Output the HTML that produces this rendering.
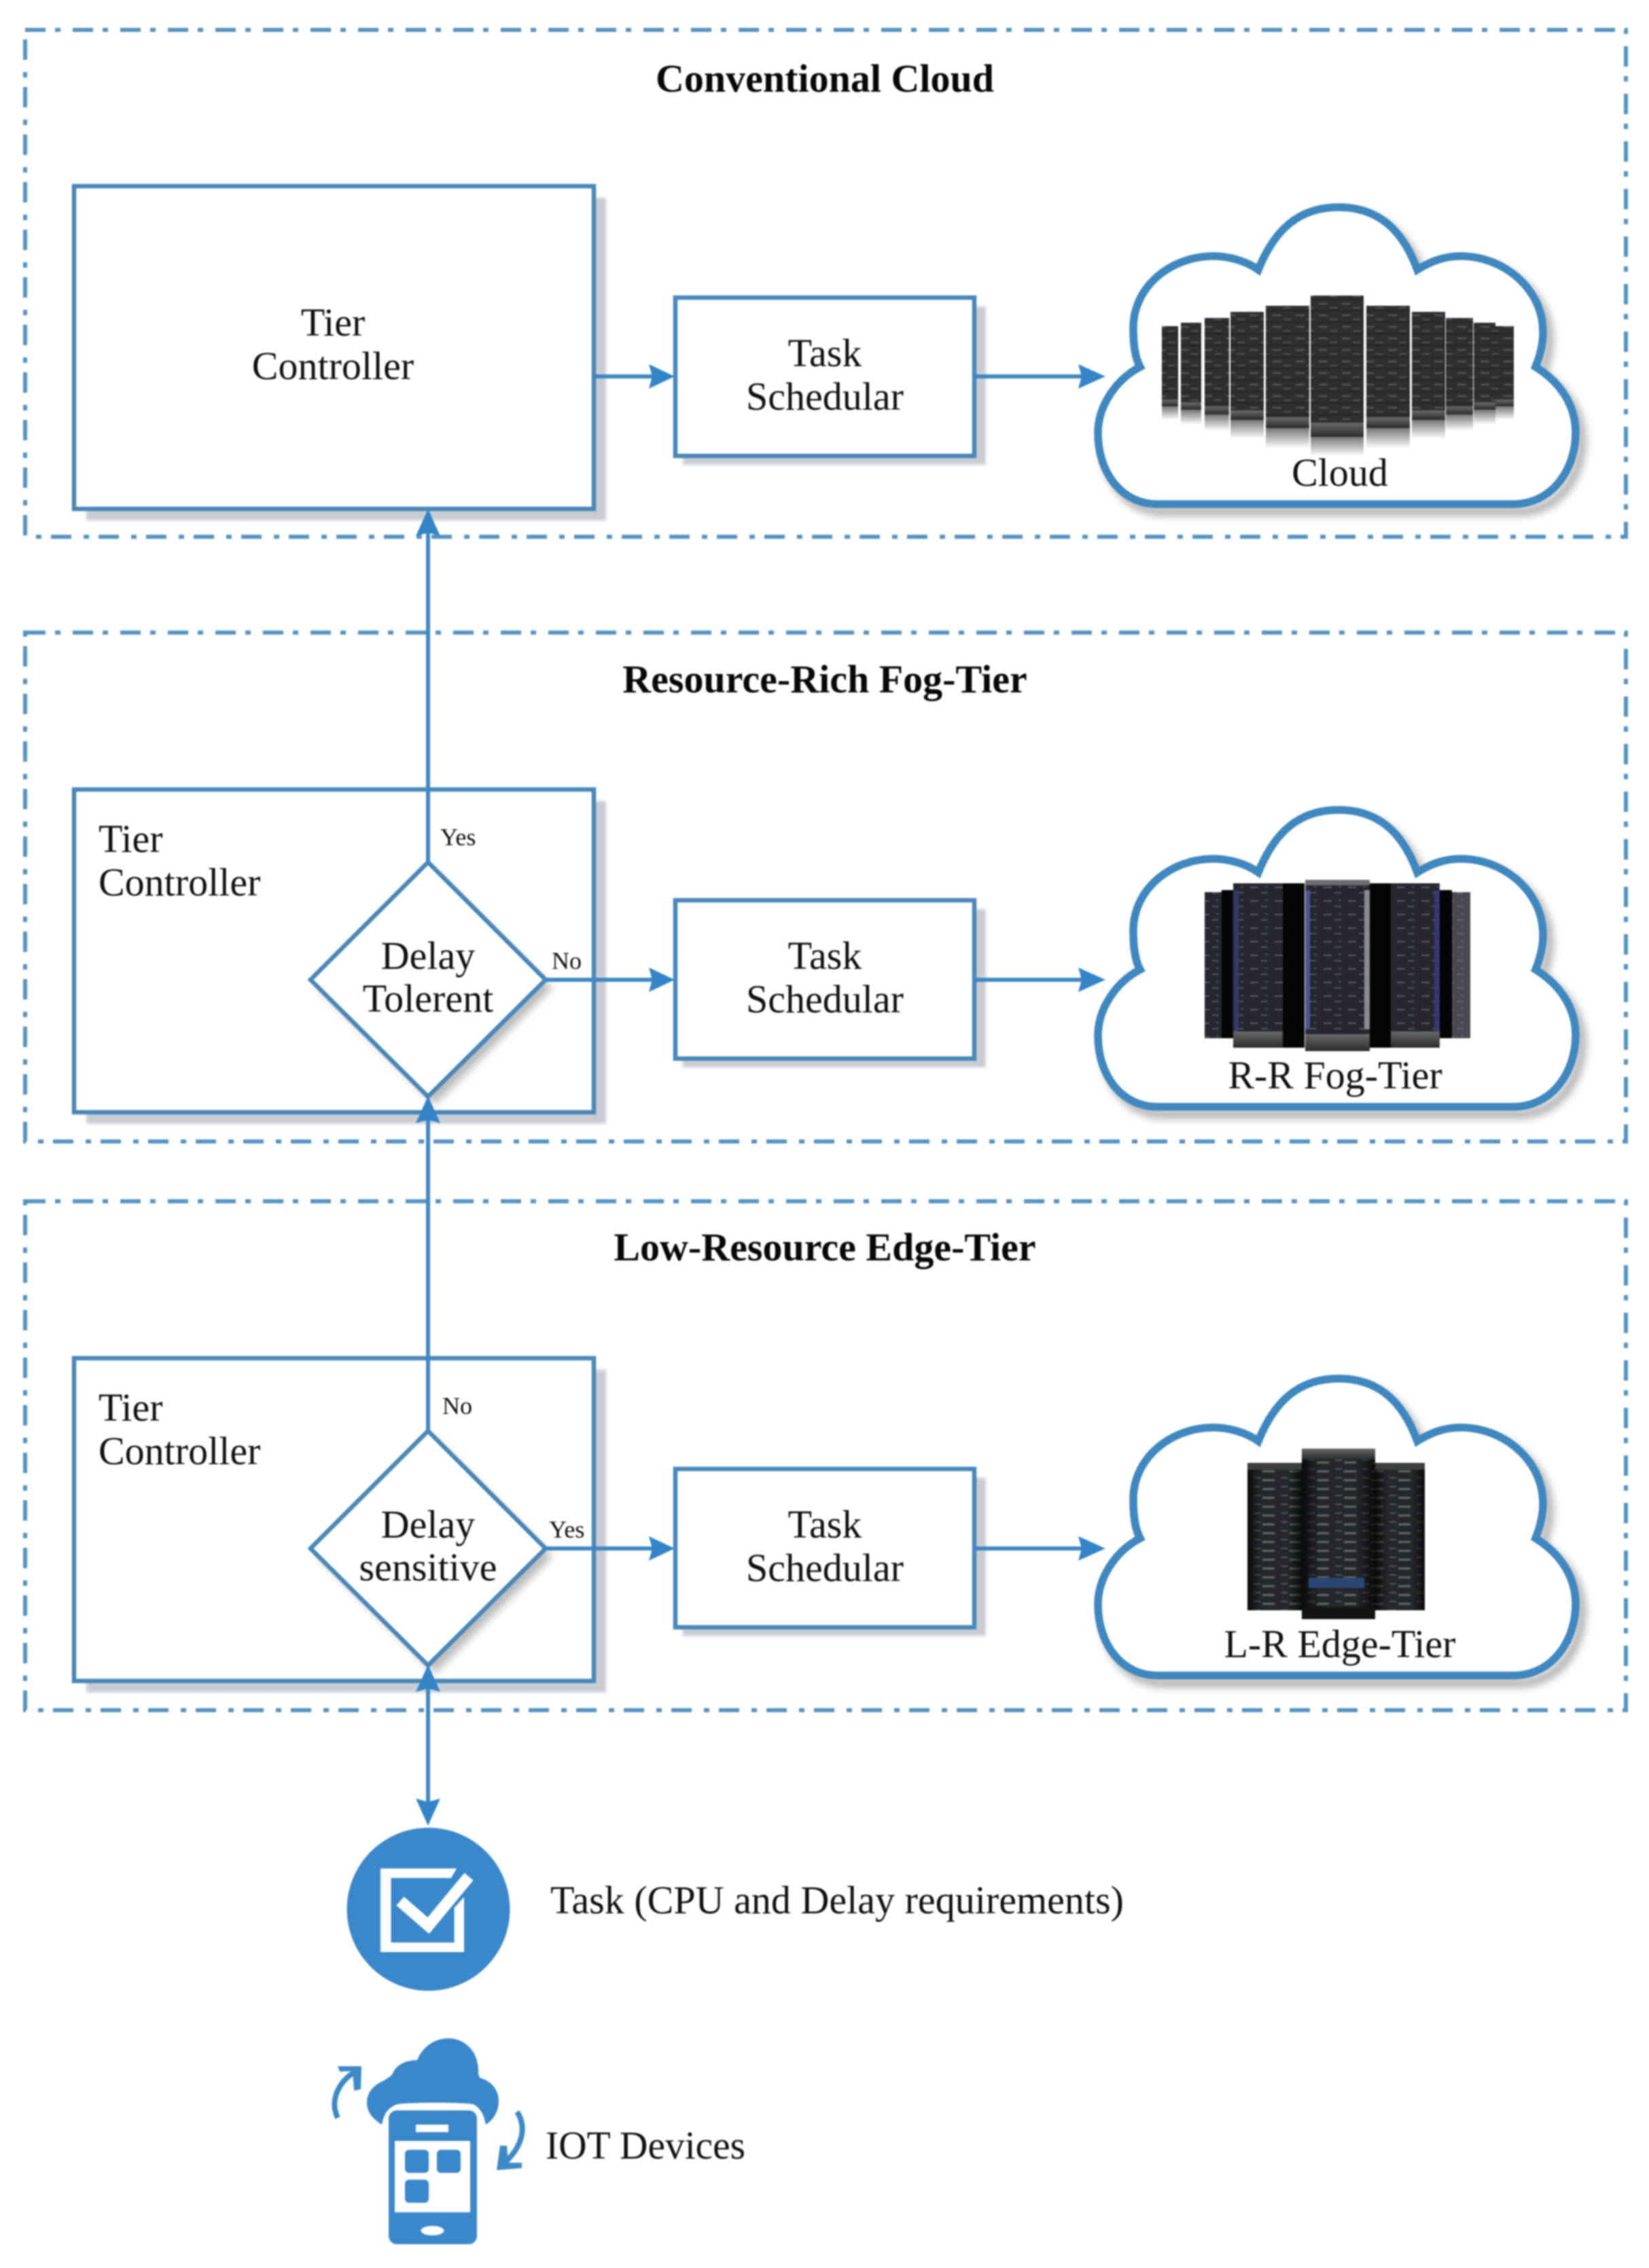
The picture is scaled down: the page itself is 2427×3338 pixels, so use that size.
<!DOCTYPE html>
<html><head><meta charset="utf-8"><style>
html,body{margin:0;padding:0;background:#fff;width:2427px;height:3338px;overflow:hidden}
svg{display:block;filter:blur(1px)}
text{font-family:"Liberation Serif",serif;font-size:58px;fill:#111}
.b{font-weight:bold;text-anchor:middle;fill:#080808}
.m{text-anchor:middle}
.s{font-size:36px}
.o{fill:none;stroke:#5593c3;stroke-width:6;stroke-dasharray:30 14 8 18}
.bx{fill:#fff;stroke:#4a88b9;stroke-width:6.5}
.sh{fill:#c9cdd3}
.ln{stroke:#3f88c4;stroke-width:6;fill:none}
.ah{fill:#3484c8}
.ic{fill:#3a88cb}
</style></head><body>
<svg width="2427" height="3338" viewBox="0 0 2427 3338" xmlns="http://www.w3.org/2000/svg">
<defs>
<filter id="bl" x="-10%" y="-10%" width="120%" height="120%"><feGaussianBlur stdDeviation="6"/></filter>
<filter id="bl2" x="-10%" y="-10%" width="120%" height="120%"><feGaussianBlur stdDeviation="2"/></filter>
<path id="cl" d="M1704 742 L2227 742 C2285 742 2319 690 2319 637 C2319 600 2300 565 2260 540 C2272 510 2272 490 2270 475 C2263 420 2210 377 2150 377 C2125 377 2105 385 2086 397 C2065 340 2030 305 1970 305 C1910 305 1875 340 1852 397 C1835 385 1810 377 1786 377 C1725 377 1668 420 1668 483 C1668 505 1670 525 1678 540 C1640 560 1616 600 1616 637 C1616 695 1650 742 1704 742Z"/>
<pattern id="rk" width="34" height="17" patternUnits="userSpaceOnUse"><rect width="34" height="17" fill="#2f2f32"/><rect x="3" y="4" width="13" height="2" fill="#5c5c60"/><rect x="19" y="10" width="11" height="2" fill="#50525a"/><rect x="0" y="15" width="34" height="1" fill="#1c1c1e"/></pattern>
<pattern id="fg" width="36" height="20" patternUnits="userSpaceOnUse"><rect width="36" height="20" fill="#26272e"/><rect x="4" y="5" width="12" height="2" fill="#5c6068"/><rect x="20" y="13" width="10" height="2" fill="#4d5a66"/><rect x="26" y="4" width="4" height="2" fill="#46586a"/></pattern>
<pattern id="ed" width="40" height="13" patternUnits="userSpaceOnUse"><rect width="40" height="13" fill="#25272a"/><rect x="5" y="3" width="10" height="2" fill="#4f5d6e"/><rect x="18" y="6" width="18" height="3" fill="#5e6b6c"/></pattern>
<linearGradient id="rf" x1="0" y1="0" x2="0" y2="1"><stop offset="0" stop-color="#777"/><stop offset="1" stop-color="#fff"/></linearGradient>
<linearGradient id="ft" x1="0" y1="0" x2="0" y2="1"><stop offset="0" stop-color="#6a6a6c"/><stop offset="1" stop-color="#2a2a2c"/></linearGradient>
<linearGradient id="sd" x1="0" y1="0" x2="1" y2="0"><stop offset="0" stop-color="#000" stop-opacity=".75"/><stop offset=".25" stop-color="#000" stop-opacity="0"/><stop offset=".75" stop-color="#000" stop-opacity="0"/><stop offset="1" stop-color="#000" stop-opacity=".75"/></linearGradient>
</defs>

<!-- tier frames -->
<rect class="o" x="37" y="44" width="2356" height="746"/>
<rect class="o" x="37" y="931" width="2356" height="749"/>
<rect class="o" x="37" y="1768" width="2356" height="749"/>

<!-- titles -->
<text class="b" x="1214" y="135">Conventional Cloud</text>
<text class="b" x="1214" y="1019">Resource-Rich Fog-Tier</text>
<text class="b" x="1214" y="1855">Low-Resource Edge-Tier</text>

<!-- tier 1 boxes -->
<rect class="sh" x="127" y="291" width="765" height="475" filter="url(#bl2)"/>
<rect class="bx" x="109" y="274" width="765" height="475"/>
<rect class="sh" x="1005" y="451" width="446" height="233" filter="url(#bl2)"/>
<rect class="bx" x="994" y="438" width="440" height="233"/>
<text class="m" x="490" y="494">Tier</text>
<text class="m" x="490" y="558">Controller</text>
<text class="m" x="1214" y="539">Task</text>
<text class="m" x="1214" y="603">Schedular</text>

<!-- tier 2 boxes -->
<rect class="sh" x="127" y="1179" width="765" height="475" filter="url(#bl2)"/>
<rect class="bx" x="109" y="1162" width="765" height="475"/>
<polygon points="640,1281 813,1454 640,1626 467,1454" fill="#bbb" filter="url(#bl)"/>
<polygon class="bx" points="630,1269 803,1442 630,1614 457,1442"/>
<rect class="sh" x="1005" y="1338" width="446" height="233" filter="url(#bl2)"/>
<rect class="bx" x="994" y="1325" width="440" height="233"/>
<text x="145" y="1254">Tier</text>
<text x="145" y="1318">Controller</text>
<text class="m" x="630" y="1426">Delay</text>
<text class="m" x="630" y="1489">Tolerent</text>
<text class="m" x="1214" y="1426">Task</text>
<text class="m" x="1214" y="1490">Schedular</text>
<text class="s" x="648" y="1244">Yes</text>
<text class="s" x="812" y="1426">No</text>

<!-- tier 3 boxes -->
<rect class="sh" x="127" y="2016" width="765" height="475" filter="url(#bl2)"/>
<rect class="bx" x="109" y="1999" width="765" height="475"/>
<polygon points="640,2118 813,2291 640,2463 467,2291" fill="#bbb" filter="url(#bl)"/>
<polygon class="bx" points="630,2106 803,2279 630,2451 457,2279"/>
<rect class="sh" x="1005" y="2175" width="446" height="233" filter="url(#bl2)"/>
<rect class="bx" x="994" y="2162" width="440" height="233"/>
<text x="145" y="2091">Tier</text>
<text x="145" y="2155">Controller</text>
<text class="m" x="630" y="2263">Delay</text>
<text class="m" x="630" y="2326">sensitive</text>
<text class="m" x="1214" y="2263">Task</text>
<text class="m" x="1214" y="2327">Schedular</text>
<text class="s" x="651" y="2081">No</text>
<text class="s" x="808" y="2263">Yes</text>

<!-- connectors -->
<g class="ln">
<path d="M630 1269V770"/><path d="M630 2106V1635"/><path d="M630 2470V2670"/>
<path d="M874 554H970"/><path d="M1434 554H1600"/>
<path d="M803 1442H970"/><path d="M1434 1442H1600"/>
<path d="M803 2279H970"/><path d="M1434 2279H1600"/>
</g>
<g class="ah">
<polygon points="630,749 648,789 630,784 612,789"/>
<polygon points="630,1613 648,1653 630,1648 612,1653"/>
<polygon points="630,2450 648,2490 630,2485 612,2490"/>
<polygon points="630,2687 648,2647 630,2652 612,2647"/>
<polygon points="993,554 955,536 960,554 955,572"/>
<polygon points="993,1442 955,1424 960,1442 955,1460"/>
<polygon points="993,2279 955,2261 960,2279 955,2297"/>
<polygon points="1627,554 1587,536 1592,554 1587,572"/>
<polygon points="1627,1442 1587,1424 1592,1442 1587,1460"/>
<polygon points="1627,2279 1587,2261 1592,2279 1587,2297"/>
</g>

<!-- clouds -->
<g>
<use href="#cl" transform="translate(9,11)" fill="none" stroke="#a9a9a9" stroke-width="12" filter="url(#bl)"/>
<use href="#cl" fill="#fff" stroke="#3f87bf" stroke-width="11.5"/>
<use href="#cl" transform="translate(9,898)" fill="none" stroke="#a9a9a9" stroke-width="12" filter="url(#bl)"/>
<use href="#cl" transform="translate(0,887)" fill="#fff" stroke="#3f87bf" stroke-width="11.5"/>
<use href="#cl" transform="translate(9,1735)" fill="none" stroke="#a9a9a9" stroke-width="12" filter="url(#bl)"/>
<use href="#cl" transform="translate(0,1724)" fill="#fff" stroke="#3f87bf" stroke-width="11.5"/>
</g>

<!-- cloud servers -->
<g>
<rect x="1710" y="598" width="24" height="20" fill="url(#rf)"/><rect x="1738" y="603" width="30" height="22" fill="url(#rf)"/><rect x="1773" y="610" width="36" height="24" fill="url(#rf)"/><rect x="1811" y="618" width="49" height="28" fill="url(#rf)"/><rect x="1863" y="630" width="64" height="30" fill="url(#rf)"/><rect x="1929" y="643" width="78" height="28" fill="url(#rf)"/><rect x="2011" y="630" width="64" height="30" fill="url(#rf)"/><rect x="2078" y="618" width="49" height="28" fill="url(#rf)"/><rect x="2128" y="610" width="40" height="24" fill="url(#rf)"/><rect x="2169" y="603" width="32" height="22" fill="url(#rf)"/><rect x="2201" y="598" width="27" height="20" fill="url(#rf)"/>
<g fill="url(#rk)">
<rect x="1710" y="480" width="24" height="118"/><rect x="1738" y="475" width="30" height="128"/><rect x="1773" y="468" width="36" height="142"/><rect x="1811" y="459" width="49" height="159"/><rect x="1863" y="450" width="64" height="180"/><rect x="1929" y="435" width="78" height="208"/><rect x="2011" y="450" width="64" height="180"/><rect x="2078" y="459" width="49" height="159"/><rect x="2128" y="468" width="40" height="142"/><rect x="2169" y="475" width="32" height="128"/><rect x="2201" y="480" width="27" height="118"/>
</g>
<g fill="url(#ft)">
<rect x="1710" y="588" width="24" height="10"/><rect x="1738" y="592" width="30" height="11"/><rect x="1773" y="598" width="36" height="12"/><rect x="1811" y="604" width="49" height="14"/><rect x="1863" y="614" width="64" height="16"/><rect x="1929" y="622" width="78" height="21"/><rect x="2011" y="614" width="64" height="16"/><rect x="2078" y="604" width="49" height="14"/><rect x="2128" y="598" width="40" height="12"/><rect x="2169" y="592" width="32" height="11"/><rect x="2201" y="588" width="27" height="10"/>
</g>
<text class="m" x="1972" y="715">Cloud</text>
</g>

<!-- fog servers -->
<g>
<rect x="1773" y="1313" width="25" height="215" fill="url(#fg)"/>
<rect x="1798" y="1310" width="17" height="218" fill="#050505"/>
<rect x="1888" y="1300" width="32" height="242" fill="#050505"/>
<rect x="1815" y="1300" width="73" height="242" fill="url(#fg)"/>
<rect x="1815" y="1310" width="8" height="210" fill="#3c3f86" opacity=".7"/>
<rect x="2016" y="1300" width="31" height="242" fill="#050505"/>
<rect x="2047" y="1300" width="72" height="242" fill="url(#fg)"/>
<rect x="2111" y="1310" width="8" height="210" fill="#3c3f86" opacity=".7"/>
<rect x="2119" y="1310" width="18" height="218" fill="#050505"/>
<rect x="2137" y="1313" width="27" height="215" fill="url(#fg)"/>
<rect x="2137" y="1313" width="27" height="215" fill="#8a8a8e" opacity=".35"/>
<rect x="1921" y="1295" width="95" height="252" fill="url(#fg)"/>
<rect x="1921" y="1310" width="7" height="205" fill="#5d62a8" opacity=".8"/>
<rect x="2008" y="1310" width="8" height="205" fill="#8a8a92"/>
<rect x="1921" y="1295" width="95" height="8" fill="#6c6c70"/>
<rect x="1921" y="1522" width="95" height="25" fill="url(#ft)"/>
<rect x="1815" y="1518" width="73" height="24" fill="url(#ft)"/>
<rect x="2047" y="1518" width="72" height="24" fill="url(#ft)"/>
<text class="m" x="1965" y="1602">R-R Fog-Tier</text>
</g>

<!-- edge servers -->
<g>
<rect x="1836" y="2153" width="80" height="217" fill="url(#ed)"/>
<rect x="2024" y="2153" width="73" height="217" fill="url(#ed)"/>
<rect x="1836" y="2153" width="80" height="217" fill="url(#sd)"/>
<rect x="2024" y="2153" width="73" height="217" fill="url(#sd)"/>
<rect x="1916" y="2132" width="108" height="251" fill="url(#ed)"/>
<rect x="1916" y="2132" width="108" height="251" fill="url(#sd)"/>
<rect x="1926" y="2322" width="82" height="15" fill="#2a4775"/>
<rect x="1916" y="2132" width="108" height="16" fill="url(#ft)"/>
<rect x="1916" y="2365" width="108" height="18" fill="#141416"/>
<rect x="1836" y="2153" width="80" height="10" fill="#3e3e40"/>
<rect x="2024" y="2153" width="73" height="10" fill="#3e3e40"/>
<text class="m" x="1972" y="2439">L-R Edge-Tier</text>
</g>

<!-- task icon -->
<circle class="ic" cx="630.5" cy="2810" r="120"/>
<path fill="#fff" d="M560 2750H672L664 2764H575.5V2859H668.6V2808L683 2792V2873H560Z"/>
<path d="M589 2798L630.5 2834L690 2762" fill="none" stroke="#fff" stroke-width="17"/>
<text x="810" y="2816" textLength="844" lengthAdjust="spacingAndGlyphs">Task (CPU and Delay requirements)</text>

<!-- IoT icon -->
<path class="ic" d="M562 3127C548 3118 540 3108 540 3095C540 3080 548 3070 565 3062C572 3058 576 3055 578 3052C582 3040 596 3032 614 3032C622 3012 640 3000 660 3000C686 3000 706 3022 704 3052L706 3058C722 3062 734 3075 734 3092C734 3108 726 3120 715 3127C712 3112 708 3104 697 3097C680 3094 600 3094 585 3097C570 3102 565 3112 562 3127Z"/>
<rect class="ic" x="572" y="3106" width="130" height="197" rx="12"/>
<rect x="612" y="3127" width="48" height="11" fill="#fff"/>
<rect x="581" y="3151" width="111" height="105" fill="#fff"/>
<rect class="ic" x="596" y="3164" width="35" height="34" rx="6"/>
<rect class="ic" x="643" y="3164" width="35" height="34" rx="6"/>
<rect class="ic" x="596" y="3208" width="35" height="34" rx="6"/>
<ellipse cx="636.5" cy="3283" rx="17" ry="7" fill="#fff"/>
<path d="M497 3117C484 3090 500 3060 528 3046" fill="none" stroke="#3d8ac6" stroke-width="8"/>
<polygon points="532,3041 497,3041 500,3049 519,3048 521,3077 531,3075" fill="#3d8ac6"/>
<path d="M761 3108C778 3135 765 3165 738 3187" fill="none" stroke="#3d8ac6" stroke-width="8"/>
<polygon points="731,3194 768,3191 768,3183 748,3183 746,3158 736,3158" fill="#3d8ac6"/>
<text x="803" y="3177" textLength="294" lengthAdjust="spacingAndGlyphs">IOT Devices</text>
</svg>
</body></html>
